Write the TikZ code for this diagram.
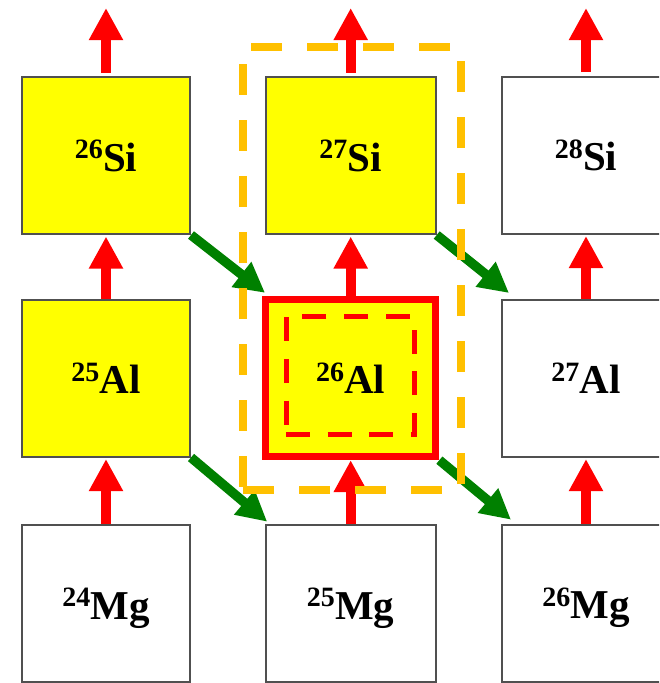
\documentclass[tikz,border=0pt]{standalone}
\usepackage{fontspec}
\setmainfont{Liberation Serif}
\usetikzlibrary{arrows.meta,calc}
\definecolor{boxgray}{HTML}{505050}
\definecolor{hlyellow}{HTML}{FFFF00}
\definecolor{hlorange}{HTML}{FFC000}
\definecolor{hlgreen}{HTML}{008000}
\definecolor{hlred}{HTML}{FF0000}
\newcommand{\isotope}[2]{\raisebox{12.5pt}{\fontsize{28}{28}\selectfont #1}\kern0.3pt#2}
\begin{document}
\begin{tikzpicture}[x=1pt,y=-1pt,
  nucbox/.style={draw=boxgray, line width=2pt, minimum width=168pt, minimum height=157pt,
    inner sep=0pt, text height=31pt, text depth=0pt,
    font=\fontsize{41}{41}\selectfont\bfseries},
  made/.style={nucbox, fill=hlyellow},
  decay/.style={line width=10pt, draw=hlred, -{Triangle[width=32pt,length=32pt]}},
  capture/.style={line width=9.5pt, draw=hlgreen, -{Triangle[width=30pt,length=30pt]}},
]
\useasboundingbox (0,0) rectangle (659,683);
\clip (0,0) rectangle (659,683);

% nuclide boxes
\node[made] (si26) at (106,155.5) {\isotope{26}{Si}};
\node[made, minimum width=170pt] (si27) at (350.7,155.5) {\isotope{27}{Si}};
\node[nucbox] (si28) at (586,155) {\isotope{28}{Si}};
\node[made] (al25) at (106,378) {\isotope{25}{Al}};
\node[made, minimum width=170pt, draw=hlred, line width=7.3pt] (al26) at (350.7,378) {\isotope{26}{Al}};
\node[nucbox] (al27) at (586,378) {\isotope{27}{Al}};
\node[nucbox] (mg24) at (106,603.7) {\isotope{24}{Mg}};
\node[nucbox, minimum width=170pt] (mg25) at (350.7,603.7) {\isotope{25}{Mg}};
\node[nucbox] (mg26) at (586,603.2) {\isotope{26}{Mg}};

% inner dashed square of 26Al
\node[draw=hlred, line width=5pt, dash pattern=on 24pt off 17.7pt,
  minimum width=128pt, minimum height=118pt, inner sep=0pt] (al26core) at (350,375) {};

% free ends of the top arrows
\coordinate (up1) at (106,8);
\coordinate (up2) at (350.7,8);
\coordinate (up3) at (586,8);

% red arrows (upward)
\draw[decay, shorten <=3.5pt] (si26.north) -- (up1);
\draw[decay, shorten <=3.5pt] (si27.north) -- (up2);
\draw[decay, shorten <=3.5pt] (si28.north) -- (up3);
\draw[decay, shorten >=1.5pt] (al25.north) -- (si26.south);
\draw[decay, shorten >=1.5pt] (al26.north) -- (si27.south);
\draw[decay, shorten >=1.5pt] (al27.north) -- (si28.south);
\draw[decay, shorten >=1.5pt] (mg24.north) -- (al25.south);
\draw[decay] (mg25.north) -- (al26.south);
\draw[decay, shorten >=1.5pt] (mg26.north) -- (al27.south);

% green arrows (diagonal)
\draw[capture] (si26.south east) -- ($(al26.north west)+(3,-3)$);
\draw[capture] (al25.south east) -- ($(mg25.north west)+(2.5,-2.5)$);
\draw[capture] (si27.south east) -- ($(al27.north west)+(8,-5.5)$);
\draw[capture] (al26.south east) -- ($(mg26.north west)+(10,-4)$);

% orange dashed frame
\node[draw=hlorange, line width=7.5pt, dash pattern=on 31pt off 25pt,
  minimum width=218pt, minimum height=443pt, inner sep=0pt] (chain) at (352,268.5) {};
\end{tikzpicture}
\end{document}
